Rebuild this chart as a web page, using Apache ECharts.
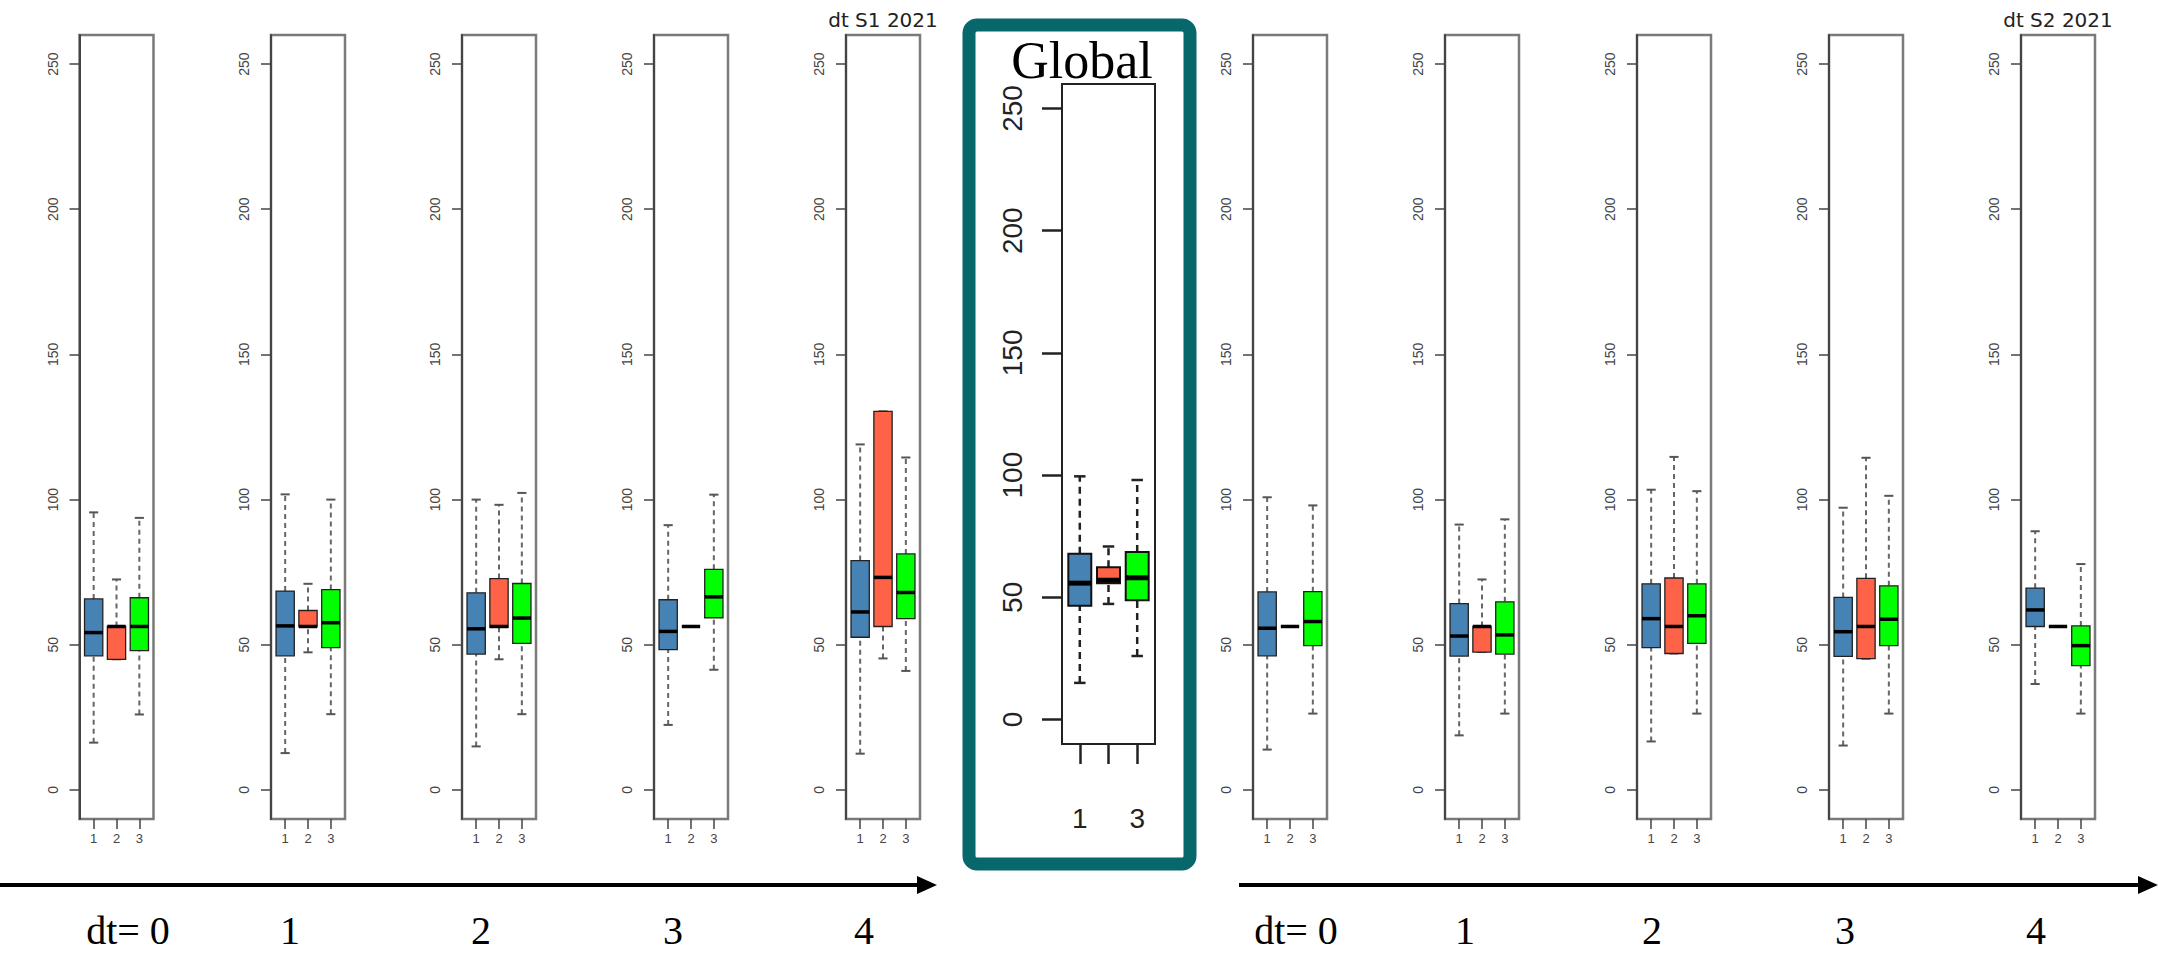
<!DOCTYPE html>
<html><head><meta charset="utf-8">
<script src="https://cdn.jsdelivr.net/npm/echarts@6/dist/echarts.min.js"></script>
<style>html,body{margin:0;padding:0;background:#fff}#c{width:2158px;height:957px}</style>
</head><body><div id="c"></div>
<script>
// ---------- data ----------
const groups = [1, 2, 3];
const yTickValues = [0, 50, 100, 150, 200, 250];
const dtLabels = ['dt= 0', '1', '2', '3', '4'];
const titleS1 = 'dt S1 2021';
const titleS2 = 'dt S2 2021';
const titleGlobal = 'Global';
// each row: [min, Q1, median, Q3, max] for groups 1, 2, 3
const s1dt0 = [[16.3, 46.2, 54.2, 65.8, 95.6], [45, 45, 56.3, 56.3, 72.5], [26, 48, 56.3, 66.2, 93.7]];
const s1dt1 = [[12.7, 46.2, 56.5, 68.5, 101.8], [47.4, 56.3, 56.3, 61.8, 71], [26.1, 49, 57.6, 69, 100]];
const s1dt2 = [[15, 46.8, 55.5, 67.9, 100], [45, 56, 56.3, 72.8, 98.2], [26.1, 50.5, 59.2, 71.1, 102.3]];
const s1dt3 = [[22.4, 48.3, 54.6, 65.5, 91.2], [56.3, 56.3, 56.3, 56.3, 56.3], [41.4, 59.3, 66.5, 76, 101.7]];
const s1dt4 = [[12.5, 52.6, 61.3, 79, 119], [45.3, 56.3, 73.2, 130.4, 130.4], [41, 59, 68, 81.3, 114.5]];
const s2dt0 = [[13.9, 46.2, 55.7, 68.2, 100.8], [56.3, 56.3, 56.3, 56.3, 56.3], [26.3, 49.7, 58, 68.3, 98]];
const s2dt1 = [[18.8, 46.1, 53, 64.2, 91.4], [47.5, 47.5, 56.3, 56.3, 72.5], [26.3, 46.8, 53.4, 64.8, 93.2]];
const s2dt2 = [[16.7, 49, 59, 71, 103.4], [47, 47, 56.3, 73, 114.7], [26.3, 50.5, 60, 71, 102.9]];
const s2dt3 = [[15.3, 46, 54.5, 66.3, 97.2], [45.2, 45.2, 56.3, 72.9, 114.4], [26.3, 49.7, 58.8, 70.3, 101.3]];
const s2dt4 = [[36.5, 56.3, 62, 69.5, 89.1], [56.3, 56.3, 56.3, 56.3, 56.3], [26.3, 42.8, 49.7, 56.5, 77.8]];
const globalBox = [[15, 46.6, 55.8, 67.8, 99.5], [47.3, 55.8, 57, 62.3, 70.8], [26, 48.8, 58, 68.5, 98]];

// ---------- styles / layout ----------
const boxColors = ['#4682B4', '#FF6347', '#00FF00'];
const smallStyle = {
  frameColor: '#7a7a7a', frameWidth: 2.5, axisColor: '#444', axisWidth: 2, tickLen: 10, tickWidth: 1.5,
  labelColor: '#444', yFont: 14, xFont: 13, yMargin: 20, xMargin: 13, xLabelValues: [1, 2, 3],
  whiskerColor: '#666', whiskerWidth: 2, dash: [5, 4], stapleColor: '#555', stapleWidth: 2,
  boxStroke: '#222', boxWidth: 1.3, medianWidth: 3.5
};
const bigStyle = {
  frameColor: '#222', frameWidth: 2, axisColor: '#222', axisWidth: 2, tickLen: 20, tickWidth: 2.5,
  labelColor: '#222', yFont: 28, xFont: 28, yMargin: 36, xMargin: 60, xLabelValues: [1, 3],
  whiskerColor: '#222', whiskerWidth: 2.5, dash: [7, 5], stapleColor: '#222', stapleWidth: 2.5,
  boxStroke: '#111', boxWidth: 2, medianWidth: 5
};
const panelData = [s1dt0, s1dt1, s1dt2, s1dt3, s1dt4, s2dt0, s2dt1, s2dt2, s2dt3, s2dt4];
const panelLeft = [79.5, 271, 462, 654, 846, 1253, 1445, 1637, 1829, 2021];

const grids = [], xAxes = [], yAxes = [], series = [];

function makeRender(st) {
  return function (params, api) {
    const x = api.value(0), mn = api.value(1), q1 = api.value(2), md = api.value(3), q3 = api.value(4), mx = api.value(5);
    const ci = api.value(6);
    const hw = 0.4, sw = 0.2;
    const c = (a, b) => api.coord([a, b]);
    const kids = [];
    const ln = (p, q, style) => kids.push({ type: 'line', shape: { x1: p[0], y1: p[1], x2: q[0], y2: q[1] }, style });
    const dash = { stroke: st.whiskerColor, lineWidth: st.whiskerWidth, lineDash: st.dash };
    const sol = { stroke: st.stapleColor, lineWidth: st.stapleWidth };
    if (mx > q3) ln(c(x, q3), c(x, mx), dash);
    if (mn < q1) ln(c(x, mn), c(x, q1), dash);
    ln(c(x - sw, mx), c(x + sw, mx), sol);
    ln(c(x - sw, mn), c(x + sw, mn), sol);
    const tl = c(x - hw, q3), br = c(x + hw, q1);
    kids.push({ type: 'rect', shape: { x: tl[0], y: tl[1], width: br[0] - tl[0], height: br[1] - tl[1] },
      style: { fill: boxColors[ci], stroke: st.boxStroke, lineWidth: st.boxWidth } });
    ln(c(x - hw, md), c(x + hw, md), { stroke: '#000', lineWidth: st.medianWidth });
    return { type: 'group', children: kids };
  };
}

function addPanel(data, box, st) {
  const i = grids.length;
  grids.push({ left: box.left, top: box.top, width: box.width, height: box.height, show: true,
    borderColor: st.frameColor, borderWidth: st.frameWidth, backgroundColor: '#fff' });
  xAxes.push({ gridIndex: i, type: 'value', min: 0.38, max: 3.62, position: 'bottom',
    axisLine: { show: false, onZero: false }, splitLine: { show: false },
    axisTick: { show: true, length: st.tickLen, customValues: groups, lineStyle: { color: st.axisColor, width: st.tickWidth } },
    axisLabel: { customValues: st.xLabelValues, fontSize: st.xFont, color: st.labelColor, margin: st.xMargin, fontFamily: 'Liberation Sans' } });
  yAxes.push({ gridIndex: i, type: 'value', min: -10, max: 260, position: 'left',
    axisLine: { show: true, onZero: false, lineStyle: { color: st.axisColor, width: st.axisWidth } }, splitLine: { show: false },
    axisTick: { show: true, length: st.tickLen, customValues: yTickValues, lineStyle: { color: st.axisColor, width: st.tickWidth } },
    axisLabel: { customValues: yTickValues, rotate: 90, fontSize: st.yFont, color: st.labelColor, margin: st.yMargin, fontFamily: 'Liberation Sans' } });
  series.push({ type: 'custom', xAxisIndex: i, yAxisIndex: i, renderItem: makeRender(st), clip: false,
    encode: { x: 0, y: [1, 2, 3, 4, 5] },
    data: data.map((d, k) => [groups[k], d[0], d[1], d[2], d[3], d[4], k]) });
}

panelData.forEach((d, i) => addPanel(d, { left: panelLeft[i], top: 35, width: 74, height: 784 }, smallStyle));
addPanel(globalBox, { left: 1062, top: 84, width: 93, height: 660 }, bigStyle);

const teal = '#07676a';
const graphics = [
  { type: 'rect', z: -1, shape: { x: 969, y: 25, width: 221, height: 839, r: 8 }, style: { fill: '#fff', stroke: teal, lineWidth: 13 } },
  { type: 'text', style: { text: titleGlobal, x: 1082, y: 60, textAlign: 'center', textVerticalAlign: 'middle', fontSize: 52, fontFamily: 'Liberation Serif', fill: '#000' } },
  { type: 'text', style: { text: titleS1, x: 883, y: 20, textAlign: 'center', textVerticalAlign: 'middle', fontSize: 20, fontFamily: 'DejaVu Sans', fill: '#222' } },
  { type: 'text', style: { text: titleS2, x: 2058, y: 20, textAlign: 'center', textVerticalAlign: 'middle', fontSize: 20, fontFamily: 'DejaVu Sans', fill: '#222' } },
  // arrows
  { type: 'line', shape: { x1: 0, y1: 885, x2: 922, y2: 885 }, style: { stroke: '#000', lineWidth: 4 } },
  { type: 'polygon', shape: { points: [[917, 876], [937, 885], [917, 894]] }, style: { fill: '#000' } },
  { type: 'line', shape: { x1: 1239, y1: 885, x2: 2144, y2: 885 }, style: { stroke: '#000', lineWidth: 4 } },
  { type: 'polygon', shape: { points: [[2138, 876], [2158, 885], [2138, 894]] }, style: { fill: '#000' } }
];
const labelXLeft = [128, 290, 481, 673, 864];
const labelXRight = [1296, 1465, 1652, 1845, 2036];
dtLabels.forEach((t, i) => {
  graphics.push({ type: 'text', style: { text: t, x: labelXLeft[i], y: 930, textAlign: 'center', textVerticalAlign: 'middle', fontSize: 40, fontFamily: 'Liberation Serif', fill: '#000' } });
  graphics.push({ type: 'text', style: { text: t, x: labelXRight[i], y: 930, textAlign: 'center', textVerticalAlign: 'middle', fontSize: 40, fontFamily: 'Liberation Serif', fill: '#000' } });
});

const chart = echarts.init(document.getElementById('c'), null, { renderer: 'svg' });
chart.setOption({
  animation: false,
  backgroundColor: '#fff',
  grid: grids, xAxis: xAxes, yAxis: yAxes, series: series,
  graphic: { elements: graphics }
});
</script></body></html>
